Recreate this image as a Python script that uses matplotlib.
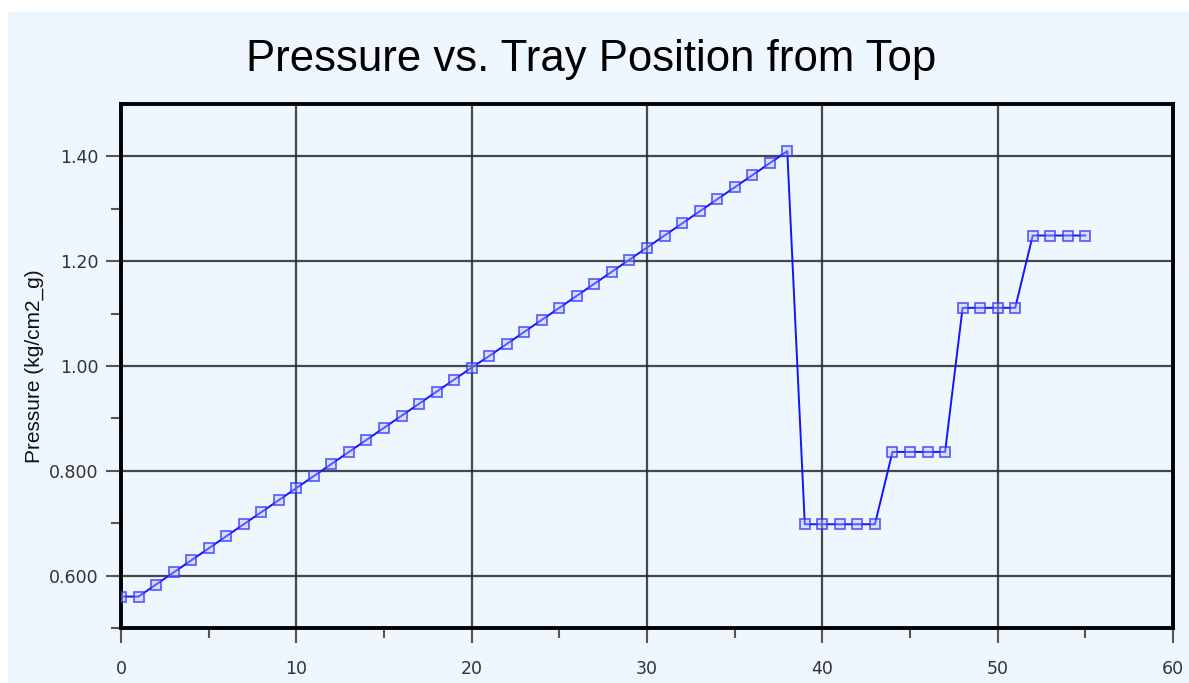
import matplotlib.pyplot as plt
from matplotlib.patches import Rectangle

# tray position from top and pressure
trays = list(range(56))
pressure = [
    0.560, 0.560, 0.583, 0.606, 0.629, 0.652, 0.675, 0.698, 0.721, 0.744,
    0.767, 0.790, 0.813, 0.836, 0.859, 0.882, 0.905, 0.928, 0.951, 0.974,
    0.997, 1.019, 1.042, 1.065, 1.088, 1.111, 1.134, 1.157, 1.180, 1.203,
    1.226, 1.249, 1.272, 1.295, 1.318, 1.341, 1.364, 1.387, 1.410,
    0.698, 0.698, 0.698, 0.698, 0.698,
    0.836, 0.836, 0.836, 0.836,
    1.111, 1.111, 1.111, 1.111,
    1.249, 1.249, 1.249, 1.249,
]
y_ticks = [0.6, 0.8, 1.0, 1.2, 1.4]
y_tick_labels = ["0.600", "0.800", "1.00", "1.20", "1.40"]
x_ticks = [0, 10, 20, 30, 40, 50, 60]

bg = "#eef6fe"

fig = plt.figure(figsize=(11.89, 6.83), dpi=100, facecolor="white")
fig.patches.append(Rectangle((8 / 1189, 0), 1, 1 - 12 / 683,
                             transform=fig.transFigure, facecolor=bg,
                             edgecolor="none", zorder=-10))

ax = fig.add_axes([121 / 1189, 1 - 628 / 683, (1173 - 121) / 1189, (628 - 104) / 683])
ax.set_facecolor(bg)

ax.plot(trays, pressure, color="#1414ff", linewidth=1.4,
        marker="s", markersize=7.5, markerfacecolor=(0.7, 0.75, 1.0, 0.4),
        markeredgecolor=(0.2, 0.2, 1.0, 0.75), markeredgewidth=1.3, zorder=3)

ax.set_xlim(0, 60)
ax.set_ylim(0.5, 1.5)
ax.set_xticks(x_ticks)
ax.set_xticks([5, 15, 25, 35, 45, 55], minor=True)
ax.set_yticks(y_ticks)
ax.set_yticklabels(y_tick_labels)
ax.set_yticks([0.5, 0.7, 0.9, 1.1, 1.3], minor=True)

ax.grid(True, which="major", color="#2a2a2a", linewidth=1.6, alpha=0.85)
for s in ax.spines.values():
    s.set_linewidth(2.8)
    s.set_color("black")

ax.tick_params(which="major", length=11, width=1.5, color="#555555",
               labelsize=12.5, labelcolor="#333333")
ax.tick_params(which="minor", length=7, width=1.5, color="#555555")
ax.tick_params(axis="x", which="major", pad=12)
ax.tick_params(axis="y", which="major", pad=5)

ax.set_ylabel("Pressure (kg/cm2_g)", fontsize=15, family="Liberation Sans",
              color="#111111", labelpad=4)

fig.text(591 / 1189, 1 - 59 / 683, "Pressure vs. Tray Position from Top",
         ha="center", va="center", fontsize=31.5, family="Liberation Sans")

fig.savefig("out.png", dpi=100, facecolor=fig.get_facecolor())
